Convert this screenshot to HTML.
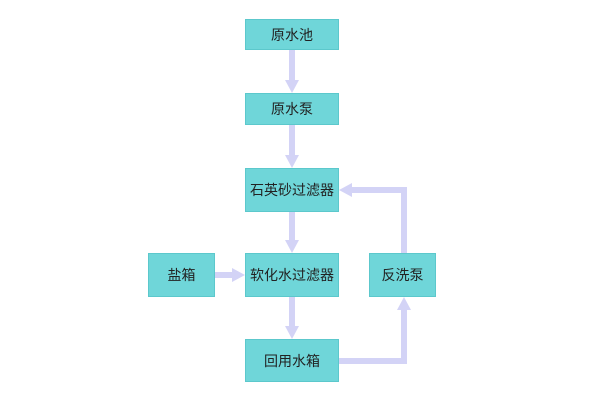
<!DOCTYPE html>
<html><head><meta charset="utf-8"><style>
body{margin:0;background:#fff;width:600px;height:400px;overflow:hidden;position:relative;font-family:"Liberation Sans","Noto Sans CJK SC",sans-serif}
.b{position:absolute;background:#6fd6d9;border:1px solid #5cc8cc;box-sizing:border-box;display:flex;align-items:center;justify-content:center;font-size:14px;color:#222}
svg{position:absolute;left:0;top:0}
</style></head><body>
<svg width="600" height="400">
<g stroke="#d3d3f6" stroke-width="6" fill="none">
<line x1="292" y1="50" x2="292" y2="82"/>
<line x1="292" y1="125" x2="292" y2="157"/>
<line x1="292" y1="212" x2="292" y2="242"/>
<line x1="292" y1="297" x2="292" y2="328"/>
<line x1="215" y1="275" x2="234" y2="275"/>
<polyline points="339,361 404,361 404,308"/>
<polyline points="404,253 404,190 350,190"/>
</g>
<g fill="#d3d3f6">
<polygon points="285,80 299,80 292,93"/>
<polygon points="285,155 299,155 292,168"/>
<polygon points="285,240 299,240 292,253"/>
<polygon points="285,326 299,326 292,339"/>
<polygon points="232,268 232,282 245,275"/>
<polygon points="397,310 411,310 404,297"/>
<polygon points="352,183 352,197 339,190"/>
</g>
</svg>
<div class="b" style="left:245px;top:19px;width:94px;height:31px">原水池</div>
<div class="b" style="left:245px;top:93px;width:94px;height:32px">原水泵</div>
<div class="b" style="left:245px;top:168px;width:94px;height:44px">石英砂过滤器</div>
<div class="b" style="left:245px;top:253px;width:94px;height:44px">软化水过滤器</div>
<div class="b" style="left:245px;top:339px;width:94px;height:43px">回用水箱</div>
<div class="b" style="left:148px;top:253px;width:67px;height:44px">盐箱</div>
<div class="b" style="left:369px;top:253px;width:67px;height:44px">反洗泵</div>
</body></html>
